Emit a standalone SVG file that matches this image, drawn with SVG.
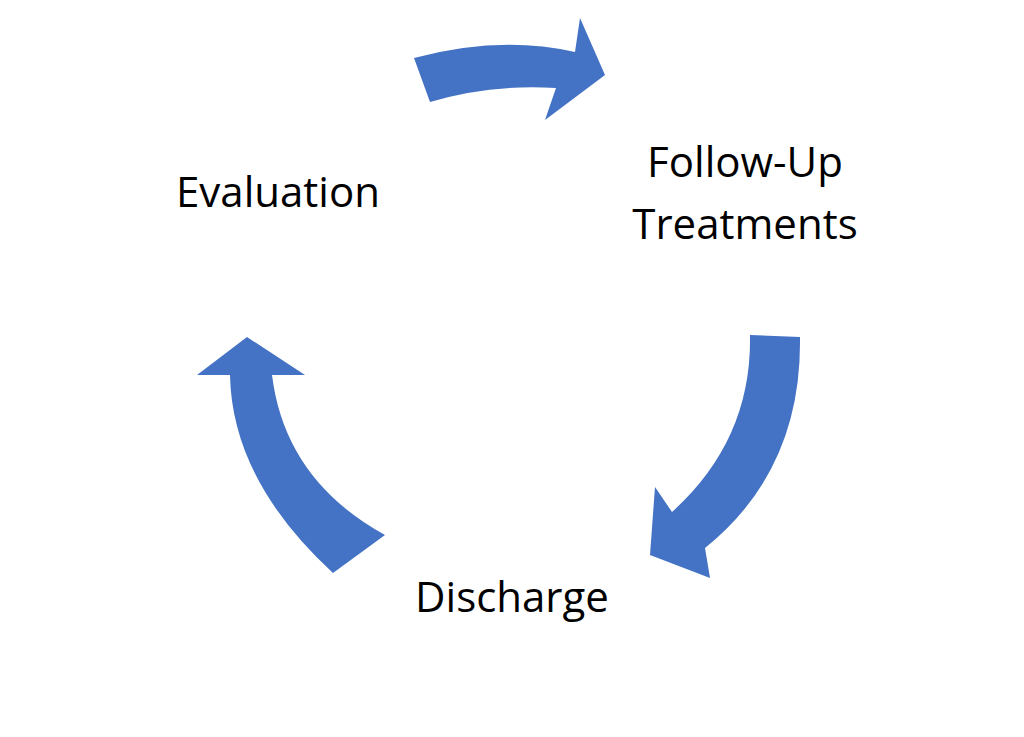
<svg xmlns="http://www.w3.org/2000/svg" width="1024" height="737" viewBox="0 0 1024 737">
<style>.a{fill:#4472C4}.t{font-family:"Open Sans","Liberation Sans",sans-serif;font-size:42px;fill:#000}</style>
<rect width="1024" height="737" fill="#fff"/>
<g id="connectors">
<path class="a" d="M414,58 Q500,35 575,52 L580,18 L605,75 L545,120 L556,88 Q490,84 430,102 Z"/>
<path class="a" d="M750,335 L800,337 Q802,470 705,548 L710,578 L650,555 L655,487 L672,512 Q752,440 750,335 Z"/>
<path class="a" d="M333,573 Q232,480 230,375 L197,375 L247,337 L305,375 L272,375 Q285,480 385,535 Z"/>
</g>
<g id="evaluation"><text class="t" x="278" y="207" text-anchor="middle">Evaluation</text></g>
<g id="followup"><text class="t" x="745" y="177" text-anchor="middle">Follow-Up</text><text class="t" x="745" y="239" text-anchor="middle">Treatments</text></g>
<g id="discharge"><text class="t" x="512" y="612" text-anchor="middle">Discharge</text></g>
</svg>
